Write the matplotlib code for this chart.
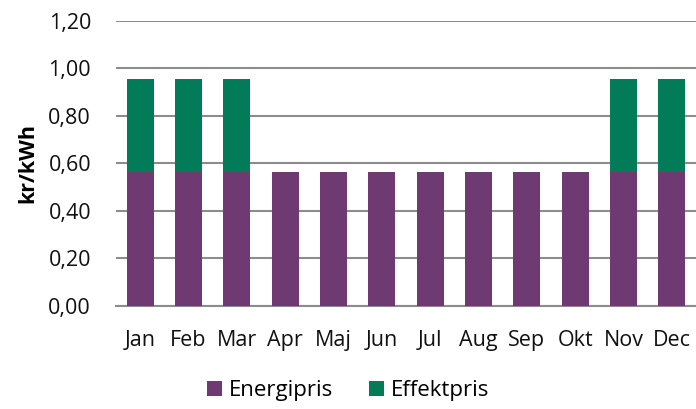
import matplotlib
matplotlib.use('Agg')
from matplotlib import pyplot as plt
from matplotlib.ticker import FuncFormatter
import numpy as np

# data
months = ['Jan', 'Feb', 'Mar', 'Apr', 'Maj', 'Jun', 'Jul', 'Aug', 'Sep', 'Okt', 'Nov', 'Dec']
energipris = [0.565, 0.565, 0.565, 0.565, 0.565, 0.565, 0.565, 0.565, 0.565, 0.565, 0.565, 0.565]
effektpris = [0.39, 0.39, 0.39, 0, 0, 0, 0, 0, 0, 0, 0.39, 0.39]

purple = '#6E3A71'
green = '#027B58'
grid_col = '#8C8C8C'

plt.rcParams['font.family'] = ['Open Sans', 'DejaVu Sans']

fig = plt.figure(figsize=(6.96, 4.09), dpi=100)
ax = fig.add_axes([0.1667, 0.252, 0.8333, 0.6967])

x = np.arange(len(months))
ax.bar(x, energipris, width=0.56, color=purple, label='Energipris', zorder=3)
ax.bar(x, effektpris, width=0.56, bottom=energipris, color=green, label='Effektpris', zorder=3)

ax.set_xlim(-0.5, len(months) - 0.5)
ax.set_ylim(0, 1.2)
ax.set_yticks(np.arange(0, 1.21, 0.2))
ax.yaxis.set_major_formatter(FuncFormatter(lambda v, p: ('%.2f' % v).replace('.', ',')))
ax.set_xticks(x)
ax.set_xticklabels(months)
ax.tick_params(axis='both', length=0, labelsize=15.5, colors='#111111')
ax.tick_params(axis='x', pad=17)
ax.tick_params(axis='y', pad=18)

ax.grid(axis='y', color=grid_col, linewidth=1.5, zorder=0)
for s in ['top', 'right', 'left']:
    ax.spines[s].set_visible(False)
ax.spines['bottom'].set_color(grid_col)
ax.spines['bottom'].set_linewidth(1.5)

ax.set_ylabel('kr/kWh', fontsize=15.5, fontweight='bold', labelpad=7)

# legend sits right at the bottom edge, as in the original
fig.legend(loc='lower center', bbox_to_anchor=(0.5, -0.03), ncol=2, frameon=False,
           fontsize=16, handlelength=0.7, handleheight=0.7, columnspacing=1.6, handletextpad=0.3)

fig.savefig('out.png', dpi=100)
